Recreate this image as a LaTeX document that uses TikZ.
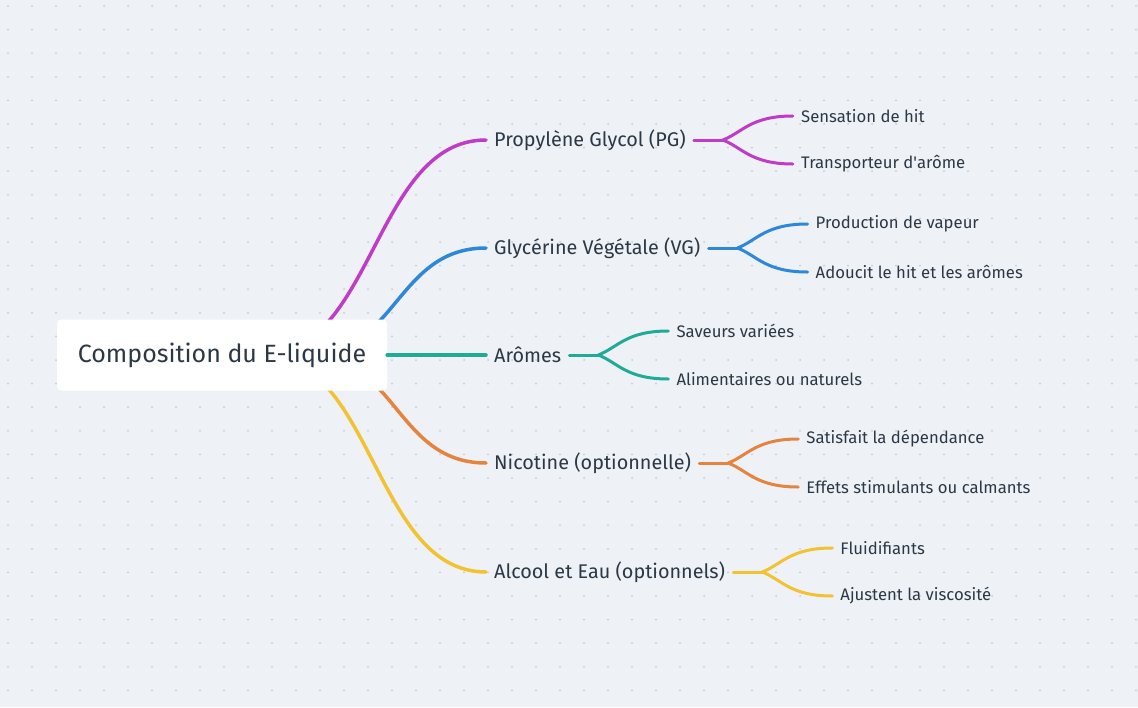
\documentclass[tikz,border=0pt]{standalone}
\usepackage{fontspec}
\setmainfont{Fira Sans}
\usetikzlibrary{positioning, calc}
\definecolor{bgcol}{HTML}{EEF2F6}
\definecolor{dotcol}{HTML}{C6CCD2}
\definecolor{ink}{HTML}{2C3845}
\definecolor{pgcol}{HTML}{BE3CC8}
\definecolor{vgcol}{HTML}{2E88D8}
\definecolor{arcol}{HTML}{1FAB97}
\definecolor{nicol}{HTML}{E5843E}
\definecolor{alcol}{HTML}{F2C232}
\tikzset{
  rootbox/.style={fill=white, rounded corners=4pt, minimum width=330pt, minimum height=71pt, text=ink, font=\fontsize{25}{29}\selectfont},
  topic/.style={anchor=west, inner xsep=8pt, inner ysep=0pt, text=ink, font=\fontsize{19.8}{23}\selectfont},
  leaf/.style={anchor=west, inner xsep=8pt, inner ysep=0pt, text=ink, font=\fontsize{16.7}{20}\selectfont},
  mainline/.style={line width=3.5pt, line cap=round},
  subline/.style={line width=3pt, line cap=round},
}
% fork with two leaves behind a topic node
\newcommand\forkleaves[4]{%
  \coordinate[right=29pt of #1] (#1f);
  \node[above right=24pt and 70pt of #1f, leaf] (#1a) {#3};
  \node[below right=24pt and 70pt of #1f, leaf] (#1b) {#4};
  \draw[subline, #2] (#1.east) -- (#1f);
  \draw[subline, #2] (#1f) .. controls +(20,-8) and +(-42,0) .. (#1a.west);
  \draw[subline, #2] (#1f) .. controls +(20,8) and +(-42,0) .. (#1b.west);
}

\begin{document}
\begin{tikzpicture}[x=1pt, y=-1pt]
  \fill[bgcol] (0,0) rectangle (1138,707);
  \useasboundingbox (0,0) rectangle (1138,707);
  \foreach \i in {0,...,47}
    \foreach \j in {0,...,29}
      \fill[dotcol] (8+24*\i, 6+23.6*\j) circle[radius=1];

  % topics
  \node[topic] (pg) at (486,140) {Propylène Glycol (PG)};
  \node[topic] (vg) at (486,248) {Glycérine Végétale (VG)};
  \node[topic] (ar) at (486,355) {Arômes};
  \node[topic] (ni) at (486,463) {Nicotine (optionnelle)};
  \node[topic] (al) at (486,572) {Alcool et Eau (optionnels)};

  % starts of the main branches, hidden by the root box
  \coordinate (s1) at (262,355);
  \coordinate (s2) at (307,355);
  \coordinate (s4) at (307,355);
  \coordinate (s5) at (262,355);

  \draw[mainline, pgcol] (s1) .. controls +(112,0) and +(-112,0) .. (pg.west);
  \draw[mainline, vgcol] (s2) .. controls +(90,0) and +(-90,0) .. (vg.west);
  \draw[mainline, nicol] (s4) .. controls +(90,0) and +(-90,0) .. (ni.west);
  \draw[mainline, alcol] (s5) .. controls +(112,0) and +(-112,0) .. (al.west);

  \node[rootbox] (root) at (222,355) {Composition du E-liquide};
  \draw[mainline, arcol] (root.east) -- (ar.west);

  \forkleaves{pg}{pgcol}{Sensation de hit}{Transporteur d\textquotesingle arôme}
  \forkleaves{vg}{vgcol}{Production de vapeur}{Adoucit le hit et les arômes}
  \forkleaves{ar}{arcol}{Saveurs variées}{Alimentaires ou naturels}
  \forkleaves{ni}{nicol}{Satisfait la dépendance}{Effets stimulants ou calmants}
  \forkleaves{al}{alcol}{Fluidifiants}{Ajustent la viscosité}
\end{tikzpicture}
\end{document}
